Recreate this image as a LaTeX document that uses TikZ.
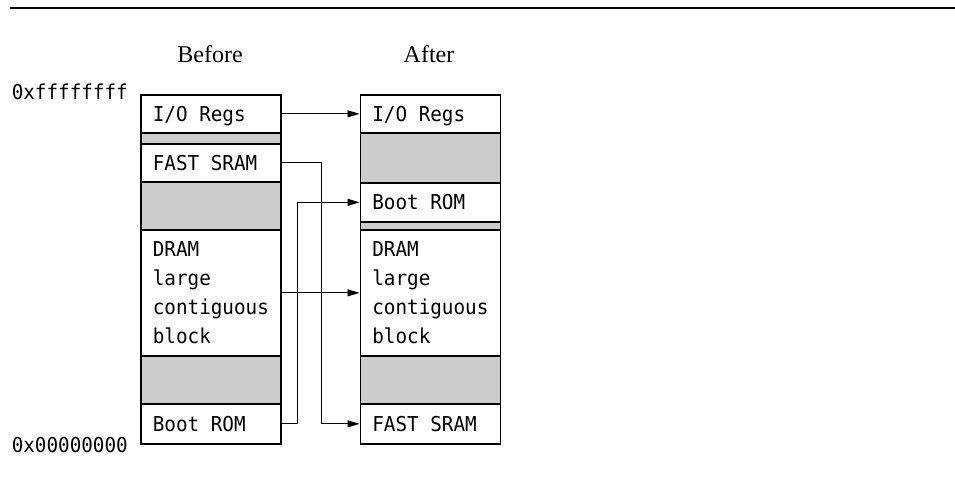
\documentclass[tikz,border=0pt]{standalone}
\usepackage{fontspec}
\setmainfont{Liberation Serif}
\setmonofont{DejaVu Sans Mono}[FakeStretch=0.94]
\usetikzlibrary{arrows.meta}
\definecolor{cellgray}{RGB}{204,204,204}
\newcommand\monofnt{\ttfamily\fontsize{20.5bp}{29bp}\selectfont}
\newcommand\msp{\hspace*{0.566em}}
\begin{document}
\begin{tikzpicture}[x=1bp,y=-1bp,
  cell/.style={draw=black, line width=1.7bp, minimum width=140bp, inner xsep=12bp, inner ysep=0pt,
    text width=116bp, align=left, anchor=north west, font=\monofnt},
  one/.style={cell, text height=15bp, text depth=0bp},
  gap/.style={cell, fill=cellgray},
  arr/.style={line width=0.9bp, -{Triangle[length=12bp,width=7bp]}},
  addr/.style={anchor=base east, inner sep=0pt, font=\monofnt},
  head/.style={anchor=base, inner sep=0pt, font=\fontsize{24bp}{28bp}\selectfont}]
\useasboundingbox (0,0) rectangle (955,492);
% top rule
\coordinate (ruleL) at (10,8);
\coordinate (ruleR) at (955,8);
\draw[line width=1.5bp] (ruleL) -- (ruleR);
% headings
\node[head] (before) at (210,63) {Before};
\node[head] (after) at (429,63) {After};
% addresses
\node[addr] (hi) at (128,100) {0xffffffff};
\node[addr] (lo) at (128,452) {0x00000000};
% Before column
\node[one, minimum height=38bp] (bio) at (140,94) {I/O\msp Regs};
\node[gap, minimum height=11bp] (bg1) at (140,132) {};
\node[one, minimum height=38bp] (bsram) at (140,143) {FAST\msp SRAM};
\node[gap, minimum height=48bp] (bg2) at (140,181) {};
\node[cell, minimum height=126bp] (bdram) at (140,229) {DRAM\\large\\contiguous\\block};
\node[gap, minimum height=48bp] (bg3) at (140,355) {};
\node[one, minimum height=40bp] (brom) at (140,403) {Boot\msp ROM};
% After column
\node[one, minimum height=38bp] (aio) at (359.5,94) {I/O\msp Regs};
\node[gap, minimum height=50bp] (ag1) at (359.5,132) {};
\node[one, minimum height=39bp] (arom) at (359.5,182) {Boot\msp ROM};
\node[gap, minimum height=8bp] (ag2) at (359.5,221) {};
\node[cell, minimum height=126bp] (adram) at (359.5,229) {DRAM\\large\\contiguous\\block};
\node[gap, minimum height=48bp] (ag3) at (359.5,355) {};
\node[one, minimum height=40bp] (asram) at (359.5,403) {FAST\msp SRAM};
% connectors
\draw[arr] (bio.east) -- (aio.west);
\draw[arr] (bsram.east) -- ++(40,0) |- (asram.west);
\draw[arr] (brom.east) -- ++(16,0) |- (arom.west);
\draw[arr] (bdram.east) -- (adram.west);
\end{tikzpicture}
\end{document}
